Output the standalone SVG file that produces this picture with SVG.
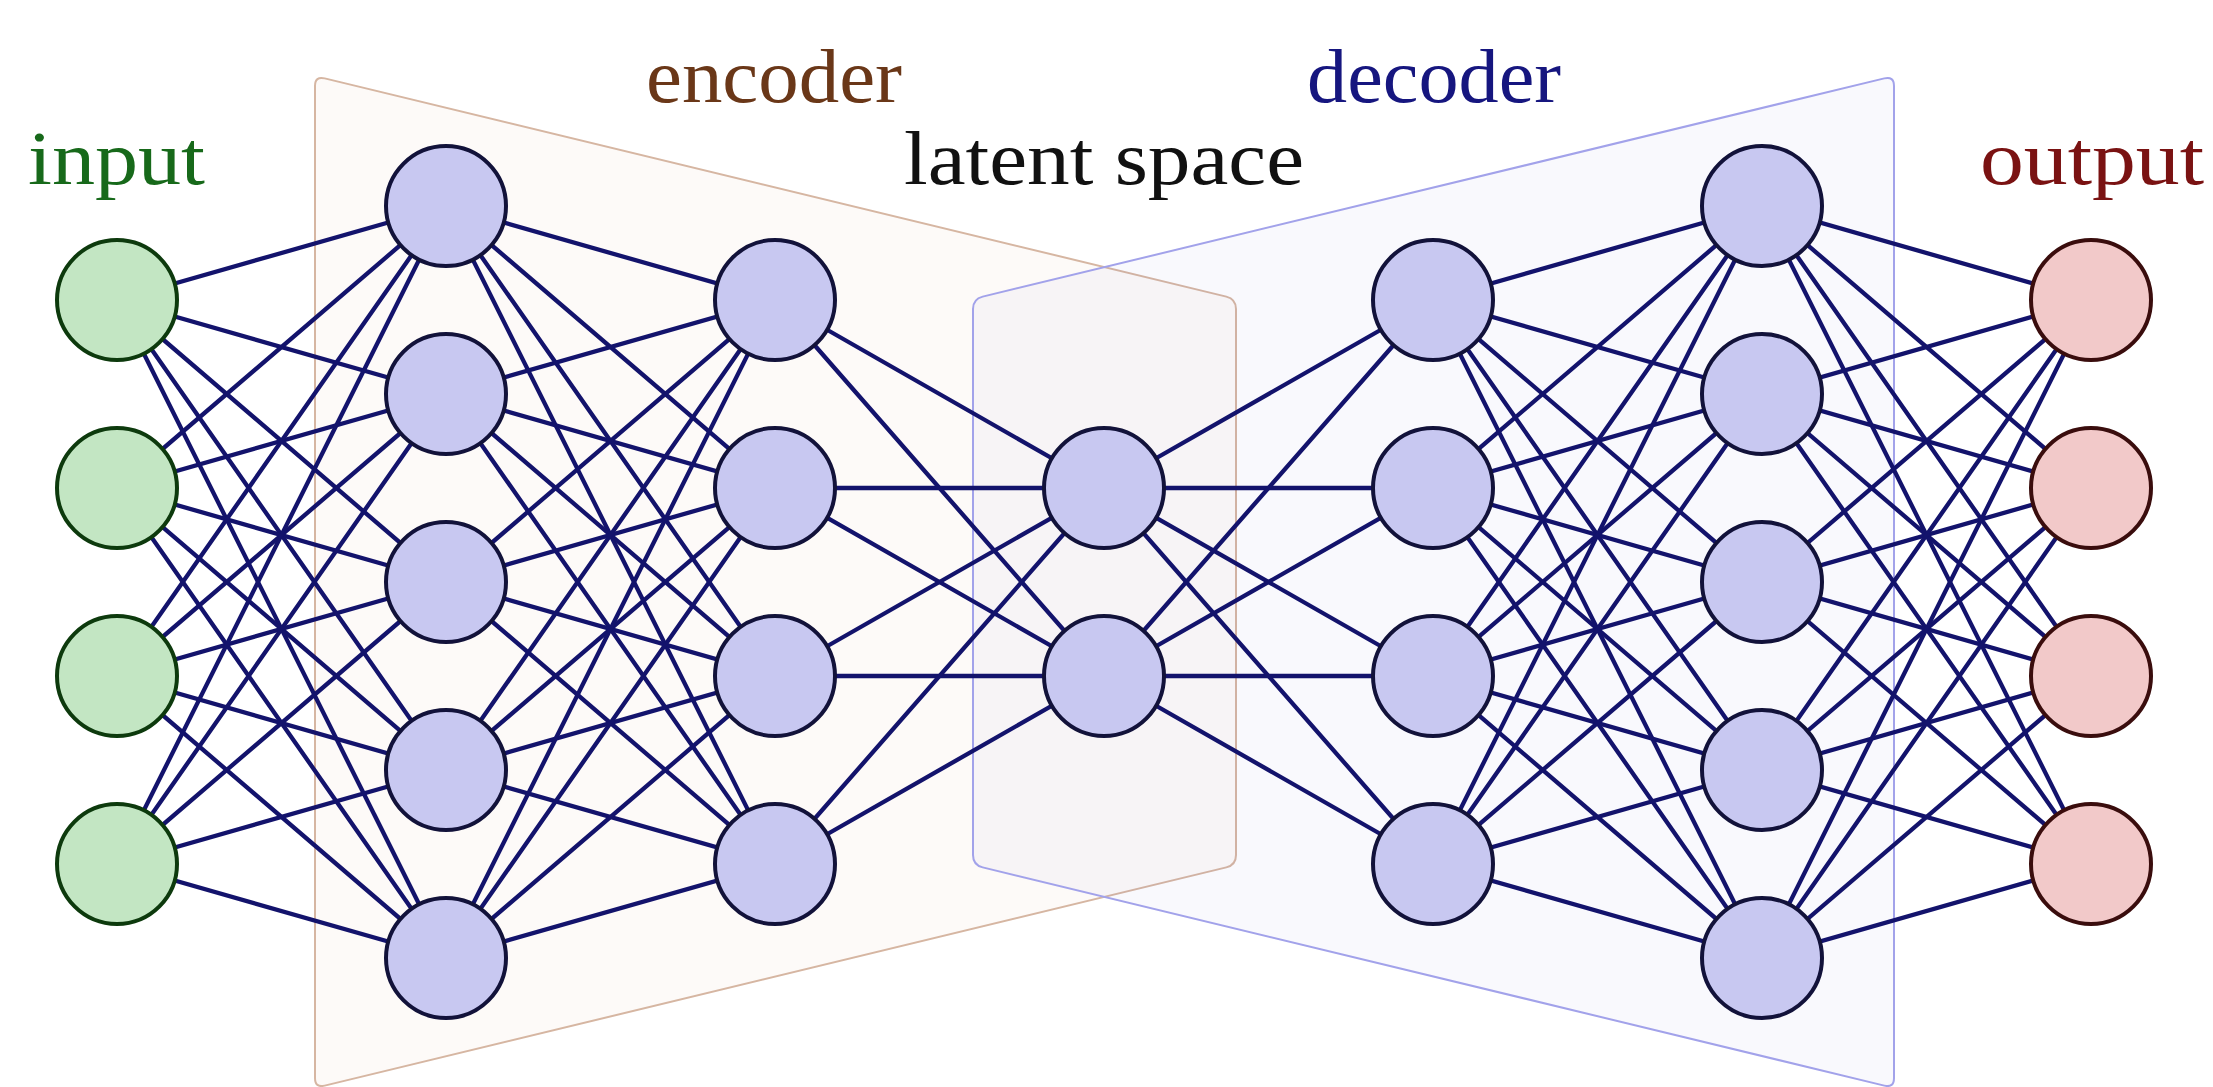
<svg xmlns="http://www.w3.org/2000/svg" width="2213" height="1087" viewBox="0 0 2213 1087">
  <style>
    .label { font-family: "Liberation Serif", "DejaVu Serif", serif; font-size: 77px; text-anchor: middle; }
    .edge { stroke: #13136c; stroke-width: 4.3; stroke-linecap: round; }
    .n-in { fill: #c3e6c3; stroke: #0d3a0d; stroke-width: 4; }
    .n-hid { fill: #c8c8f1; stroke: #12123a; stroke-width: 4; }
    .n-out { fill: #f2c9c9; stroke: #3a0d0d; stroke-width: 4; }
  </style>
  <rect width="2213" height="1087" fill="#ffffff"/>

  <!-- encoder / decoder panels -->
  <g id="encoder-panel">
    <path d="M 324.7 78.4 L 1226.3 296.6 Q 1236 299 1236 309 L 1236 855 Q 1236 865 1226.3 867.4 L 324.7 1085.6 Q 315 1088 315 1078 L 315 86 Q 315 76 324.7 78.4 Z" fill="#c8804f" fill-opacity="0.04" stroke="#d6b6a2" stroke-width="2"/>
  </g>
  <g id="decoder-panel">
    <path d="M 982.7 296.6 L 1884.3 78.4 Q 1894 76 1894 86 L 1894 1078 Q 1894 1088 1884.3 1085.6 L 982.7 867.4 Q 973 865 973 855 L 973 309 Q 973 299 982.7 296.6 Z" fill="#5050d0" fill-opacity="0.035" stroke="#a2a2ea" stroke-width="2"/>
  </g>

  <!-- labels -->
  <g id="labels">
    <text class="label" x="116.5" y="184" fill="#17691a" textLength="177" lengthAdjust="spacingAndGlyphs">input</text>
    <text class="label" x="774" y="102" fill="#6a3718" textLength="256" lengthAdjust="spacingAndGlyphs">encoder</text>
    <text class="label" x="1104" y="184" fill="#111111" textLength="400" lengthAdjust="spacingAndGlyphs">latent space</text>
    <text class="label" x="1434" y="102" fill="#16167f" textLength="254" lengthAdjust="spacingAndGlyphs">decoder</text>
    <text class="label" x="2092" y="184" fill="#7a1212" textLength="224" lengthAdjust="spacingAndGlyphs">output</text>
  </g>

  <!-- fully connected weights between consecutive layers -->
  <g id="connectors" class="edge">
    <!-- input -> encoder layer 1 -->
    <line class="edge" x1="117" y1="300" x2="446" y2="206"/>
    <line class="edge" x1="117" y1="300" x2="446" y2="394"/>
    <line class="edge" x1="117" y1="300" x2="446" y2="582"/>
    <line class="edge" x1="117" y1="300" x2="446" y2="770"/>
    <line class="edge" x1="117" y1="300" x2="446" y2="958"/>
    <line class="edge" x1="117" y1="488" x2="446" y2="206"/>
    <line class="edge" x1="117" y1="488" x2="446" y2="394"/>
    <line class="edge" x1="117" y1="488" x2="446" y2="582"/>
    <line class="edge" x1="117" y1="488" x2="446" y2="770"/>
    <line class="edge" x1="117" y1="488" x2="446" y2="958"/>
    <line class="edge" x1="117" y1="676" x2="446" y2="206"/>
    <line class="edge" x1="117" y1="676" x2="446" y2="394"/>
    <line class="edge" x1="117" y1="676" x2="446" y2="582"/>
    <line class="edge" x1="117" y1="676" x2="446" y2="770"/>
    <line class="edge" x1="117" y1="676" x2="446" y2="958"/>
    <line class="edge" x1="117" y1="864" x2="446" y2="206"/>
    <line class="edge" x1="117" y1="864" x2="446" y2="394"/>
    <line class="edge" x1="117" y1="864" x2="446" y2="582"/>
    <line class="edge" x1="117" y1="864" x2="446" y2="770"/>
    <line class="edge" x1="117" y1="864" x2="446" y2="958"/>
    <!-- encoder layer 1 -> encoder layer 2 -->
    <line class="edge" x1="446" y1="206" x2="775" y2="300"/>
    <line class="edge" x1="446" y1="206" x2="775" y2="488"/>
    <line class="edge" x1="446" y1="206" x2="775" y2="676"/>
    <line class="edge" x1="446" y1="206" x2="775" y2="864"/>
    <line class="edge" x1="446" y1="394" x2="775" y2="300"/>
    <line class="edge" x1="446" y1="394" x2="775" y2="488"/>
    <line class="edge" x1="446" y1="394" x2="775" y2="676"/>
    <line class="edge" x1="446" y1="394" x2="775" y2="864"/>
    <line class="edge" x1="446" y1="582" x2="775" y2="300"/>
    <line class="edge" x1="446" y1="582" x2="775" y2="488"/>
    <line class="edge" x1="446" y1="582" x2="775" y2="676"/>
    <line class="edge" x1="446" y1="582" x2="775" y2="864"/>
    <line class="edge" x1="446" y1="770" x2="775" y2="300"/>
    <line class="edge" x1="446" y1="770" x2="775" y2="488"/>
    <line class="edge" x1="446" y1="770" x2="775" y2="676"/>
    <line class="edge" x1="446" y1="770" x2="775" y2="864"/>
    <line class="edge" x1="446" y1="958" x2="775" y2="300"/>
    <line class="edge" x1="446" y1="958" x2="775" y2="488"/>
    <line class="edge" x1="446" y1="958" x2="775" y2="676"/>
    <line class="edge" x1="446" y1="958" x2="775" y2="864"/>
    <!-- encoder layer 2 -> latent -->
    <line class="edge" x1="775" y1="300" x2="1104" y2="488"/>
    <line class="edge" x1="775" y1="300" x2="1104" y2="676"/>
    <line class="edge" x1="775" y1="488" x2="1104" y2="488"/>
    <line class="edge" x1="775" y1="488" x2="1104" y2="676"/>
    <line class="edge" x1="775" y1="676" x2="1104" y2="488"/>
    <line class="edge" x1="775" y1="676" x2="1104" y2="676"/>
    <line class="edge" x1="775" y1="864" x2="1104" y2="488"/>
    <line class="edge" x1="775" y1="864" x2="1104" y2="676"/>
    <!-- latent -> decoder layer 1 -->
    <line class="edge" x1="1104" y1="488" x2="1433" y2="300"/>
    <line class="edge" x1="1104" y1="488" x2="1433" y2="488"/>
    <line class="edge" x1="1104" y1="488" x2="1433" y2="676"/>
    <line class="edge" x1="1104" y1="488" x2="1433" y2="864"/>
    <line class="edge" x1="1104" y1="676" x2="1433" y2="300"/>
    <line class="edge" x1="1104" y1="676" x2="1433" y2="488"/>
    <line class="edge" x1="1104" y1="676" x2="1433" y2="676"/>
    <line class="edge" x1="1104" y1="676" x2="1433" y2="864"/>
    <!-- decoder layer 1 -> decoder layer 2 -->
    <line class="edge" x1="1433" y1="300" x2="1762" y2="206"/>
    <line class="edge" x1="1433" y1="300" x2="1762" y2="394"/>
    <line class="edge" x1="1433" y1="300" x2="1762" y2="582"/>
    <line class="edge" x1="1433" y1="300" x2="1762" y2="770"/>
    <line class="edge" x1="1433" y1="300" x2="1762" y2="958"/>
    <line class="edge" x1="1433" y1="488" x2="1762" y2="206"/>
    <line class="edge" x1="1433" y1="488" x2="1762" y2="394"/>
    <line class="edge" x1="1433" y1="488" x2="1762" y2="582"/>
    <line class="edge" x1="1433" y1="488" x2="1762" y2="770"/>
    <line class="edge" x1="1433" y1="488" x2="1762" y2="958"/>
    <line class="edge" x1="1433" y1="676" x2="1762" y2="206"/>
    <line class="edge" x1="1433" y1="676" x2="1762" y2="394"/>
    <line class="edge" x1="1433" y1="676" x2="1762" y2="582"/>
    <line class="edge" x1="1433" y1="676" x2="1762" y2="770"/>
    <line class="edge" x1="1433" y1="676" x2="1762" y2="958"/>
    <line class="edge" x1="1433" y1="864" x2="1762" y2="206"/>
    <line class="edge" x1="1433" y1="864" x2="1762" y2="394"/>
    <line class="edge" x1="1433" y1="864" x2="1762" y2="582"/>
    <line class="edge" x1="1433" y1="864" x2="1762" y2="770"/>
    <line class="edge" x1="1433" y1="864" x2="1762" y2="958"/>
    <!-- decoder layer 2 -> output -->
    <line class="edge" x1="1762" y1="206" x2="2091" y2="300"/>
    <line class="edge" x1="1762" y1="206" x2="2091" y2="488"/>
    <line class="edge" x1="1762" y1="206" x2="2091" y2="676"/>
    <line class="edge" x1="1762" y1="206" x2="2091" y2="864"/>
    <line class="edge" x1="1762" y1="394" x2="2091" y2="300"/>
    <line class="edge" x1="1762" y1="394" x2="2091" y2="488"/>
    <line class="edge" x1="1762" y1="394" x2="2091" y2="676"/>
    <line class="edge" x1="1762" y1="394" x2="2091" y2="864"/>
    <line class="edge" x1="1762" y1="582" x2="2091" y2="300"/>
    <line class="edge" x1="1762" y1="582" x2="2091" y2="488"/>
    <line class="edge" x1="1762" y1="582" x2="2091" y2="676"/>
    <line class="edge" x1="1762" y1="582" x2="2091" y2="864"/>
    <line class="edge" x1="1762" y1="770" x2="2091" y2="300"/>
    <line class="edge" x1="1762" y1="770" x2="2091" y2="488"/>
    <line class="edge" x1="1762" y1="770" x2="2091" y2="676"/>
    <line class="edge" x1="1762" y1="770" x2="2091" y2="864"/>
    <line class="edge" x1="1762" y1="958" x2="2091" y2="300"/>
    <line class="edge" x1="1762" y1="958" x2="2091" y2="488"/>
    <line class="edge" x1="1762" y1="958" x2="2091" y2="676"/>
    <line class="edge" x1="1762" y1="958" x2="2091" y2="864"/>
  </g>

  <!-- input layer -->
  <g id="input-1"><circle class="n-in" cx="117" cy="300" r="60"/></g>
  <g id="input-2"><circle class="n-in" cx="117" cy="488" r="60"/></g>
  <g id="input-3"><circle class="n-in" cx="117" cy="676" r="60"/></g>
  <g id="input-4"><circle class="n-in" cx="117" cy="864" r="60"/></g>

  <!-- encoder layer 1 -->
  <g id="enc1-1"><circle class="n-hid" cx="446" cy="206" r="60"/></g>
  <g id="enc1-2"><circle class="n-hid" cx="446" cy="394" r="60"/></g>
  <g id="enc1-3"><circle class="n-hid" cx="446" cy="582" r="60"/></g>
  <g id="enc1-4"><circle class="n-hid" cx="446" cy="770" r="60"/></g>
  <g id="enc1-5"><circle class="n-hid" cx="446" cy="958" r="60"/></g>

  <!-- encoder layer 2 -->
  <g id="enc2-1"><circle class="n-hid" cx="775" cy="300" r="60"/></g>
  <g id="enc2-2"><circle class="n-hid" cx="775" cy="488" r="60"/></g>
  <g id="enc2-3"><circle class="n-hid" cx="775" cy="676" r="60"/></g>
  <g id="enc2-4"><circle class="n-hid" cx="775" cy="864" r="60"/></g>

  <!-- latent layer -->
  <g id="latent-1"><circle class="n-hid" cx="1104" cy="488" r="60"/></g>
  <g id="latent-2"><circle class="n-hid" cx="1104" cy="676" r="60"/></g>

  <!-- decoder layer 1 -->
  <g id="dec1-1"><circle class="n-hid" cx="1433" cy="300" r="60"/></g>
  <g id="dec1-2"><circle class="n-hid" cx="1433" cy="488" r="60"/></g>
  <g id="dec1-3"><circle class="n-hid" cx="1433" cy="676" r="60"/></g>
  <g id="dec1-4"><circle class="n-hid" cx="1433" cy="864" r="60"/></g>

  <!-- decoder layer 2 -->
  <g id="dec2-1"><circle class="n-hid" cx="1762" cy="206" r="60"/></g>
  <g id="dec2-2"><circle class="n-hid" cx="1762" cy="394" r="60"/></g>
  <g id="dec2-3"><circle class="n-hid" cx="1762" cy="582" r="60"/></g>
  <g id="dec2-4"><circle class="n-hid" cx="1762" cy="770" r="60"/></g>
  <g id="dec2-5"><circle class="n-hid" cx="1762" cy="958" r="60"/></g>

  <!-- output layer -->
  <g id="output-1"><circle class="n-out" cx="2091" cy="300" r="60"/></g>
  <g id="output-2"><circle class="n-out" cx="2091" cy="488" r="60"/></g>
  <g id="output-3"><circle class="n-out" cx="2091" cy="676" r="60"/></g>
  <g id="output-4"><circle class="n-out" cx="2091" cy="864" r="60"/></g>
</svg>
